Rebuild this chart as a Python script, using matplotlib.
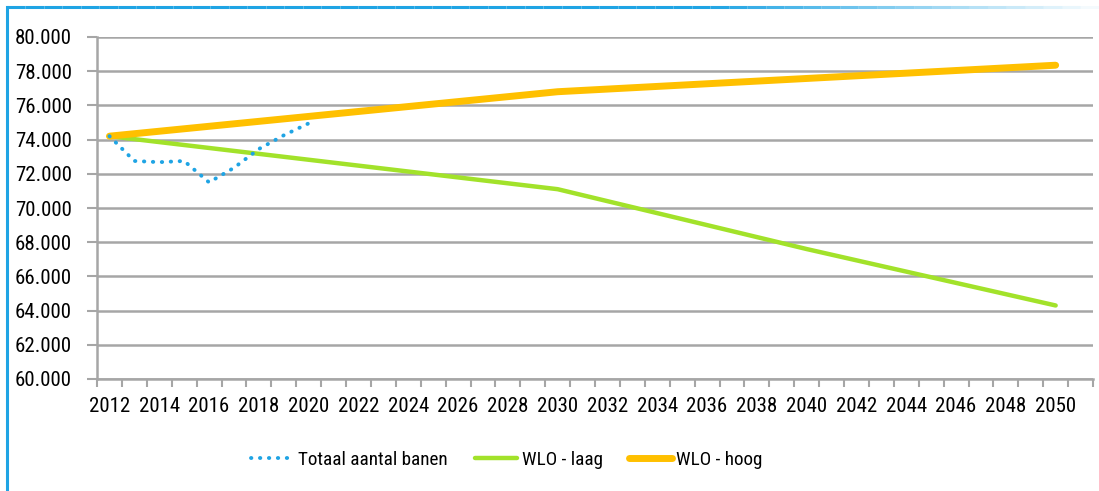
import numpy as np
import matplotlib
matplotlib.use('Agg')
from matplotlib import pyplot as plt
from matplotlib.lines import Line2D

plt.rcParams['font.family'] = ['Roboto Condensed', 'Liberation Sans', 'DejaVu Sans']

# data (x 1000 banen)
years_totaal = [2012, 2013, 2014, 2015, 2016, 2017, 2018, 2019, 2020]
totaal = [74.2, 72.75, 72.68, 72.75, 71.5, 72.35, 73.45, 74.25, 74.95]

years_laag = [2012, 2030, 2040, 2050]
wlo_laag = [74.2, 71.1, 67.6, 64.3]

years_hoog = [2012, 2030, 2050]
wlo_hoog = [74.2, 76.8, 78.35]

year_labels = list(range(2012, 2051, 2))
y_ticks = list(range(60, 81, 2))

fig = plt.figure(figsize=(10.99, 4.91), dpi=100)
ax = fig.add_axes([97 / 1099, 1 - 379 / 491, (1093 - 97) / 1099, (379 - 37) / 491])

c_blue = '#1FA4E4'
c_green = '#A2E22A'
c_orange = '#FFC000'
c_grid = '#A6A6A6'

ax.plot(years_totaal, totaal, color=c_blue, lw=2.8, linestyle=(0, (0.1, 2.2)),
        dash_capstyle='round', zorder=4, label='Totaal aantal banen')
ax.plot(years_laag, wlo_laag, color=c_green, lw=3.2, solid_capstyle='round',
        solid_joinstyle='round', zorder=3, label='WLO - laag')
ax.plot(years_hoog, wlo_hoog, color=c_orange, lw=5.0, solid_capstyle='round',
        solid_joinstyle='round', zorder=3, label='WLO - hoog')

ax.set_xlim(2011.5, 2051.5)
ax.set_ylim(60, 80)

ax.set_yticks(y_ticks)
ax.set_yticklabels(['%d.000' % v for v in y_ticks])
ax.set_xticks(year_labels)
ax.set_xticklabels([str(y) for y in year_labels])
ax.set_xticks(np.arange(2011.5, 2052, 1), minor=True)
ax.tick_params(axis='x', which='major', length=0, pad=13, labelsize=15)
ax.tick_params(axis='x', which='minor', length=6, width=1.5, color=c_grid)
ax.tick_params(axis='y', length=7, width=1.5, color=c_grid, pad=11, labelsize=15)

ax.grid(axis='y', color=c_grid, lw=1.8, zorder=0)
ax.set_axisbelow(True)
for s in ['top', 'right']:
    ax.spines[s].set_visible(False)
for s in ['left', 'bottom']:
    ax.spines[s].set_color(c_grid)
    ax.spines[s].set_linewidth(1.8)

ax.legend(loc='center', bbox_to_anchor=(507 / 1099, 1 - 460 / 491),
          bbox_transform=fig.transFigure, ncol=3, frameon=False,
          fontsize=13.8, handlelength=2.2, handletextpad=0.25, columnspacing=1.4)

# blue frame on left and top, fading at the right
fig.add_artist(Line2D([6.5 / 1099, 6.5 / 1099], [0, 1 - 7 / 491],
                      transform=fig.transFigure, color=c_blue, lw=2.2))
xs = np.linspace(6.5, 1099, 60)
for i in range(len(xs) - 1):
    a = 1.0 if xs[i] < 700 else max(0.0, 1 - (xs[i] - 700) / 400)
    fig.add_artist(Line2D([xs[i] / 1099, xs[i + 1] / 1099], [1 - 7 / 491, 1 - 7 / 491],
                          transform=fig.transFigure, color=c_blue, lw=2.2, alpha=a,
                          solid_capstyle='butt'))

fig.savefig('out.png', dpi=100)
